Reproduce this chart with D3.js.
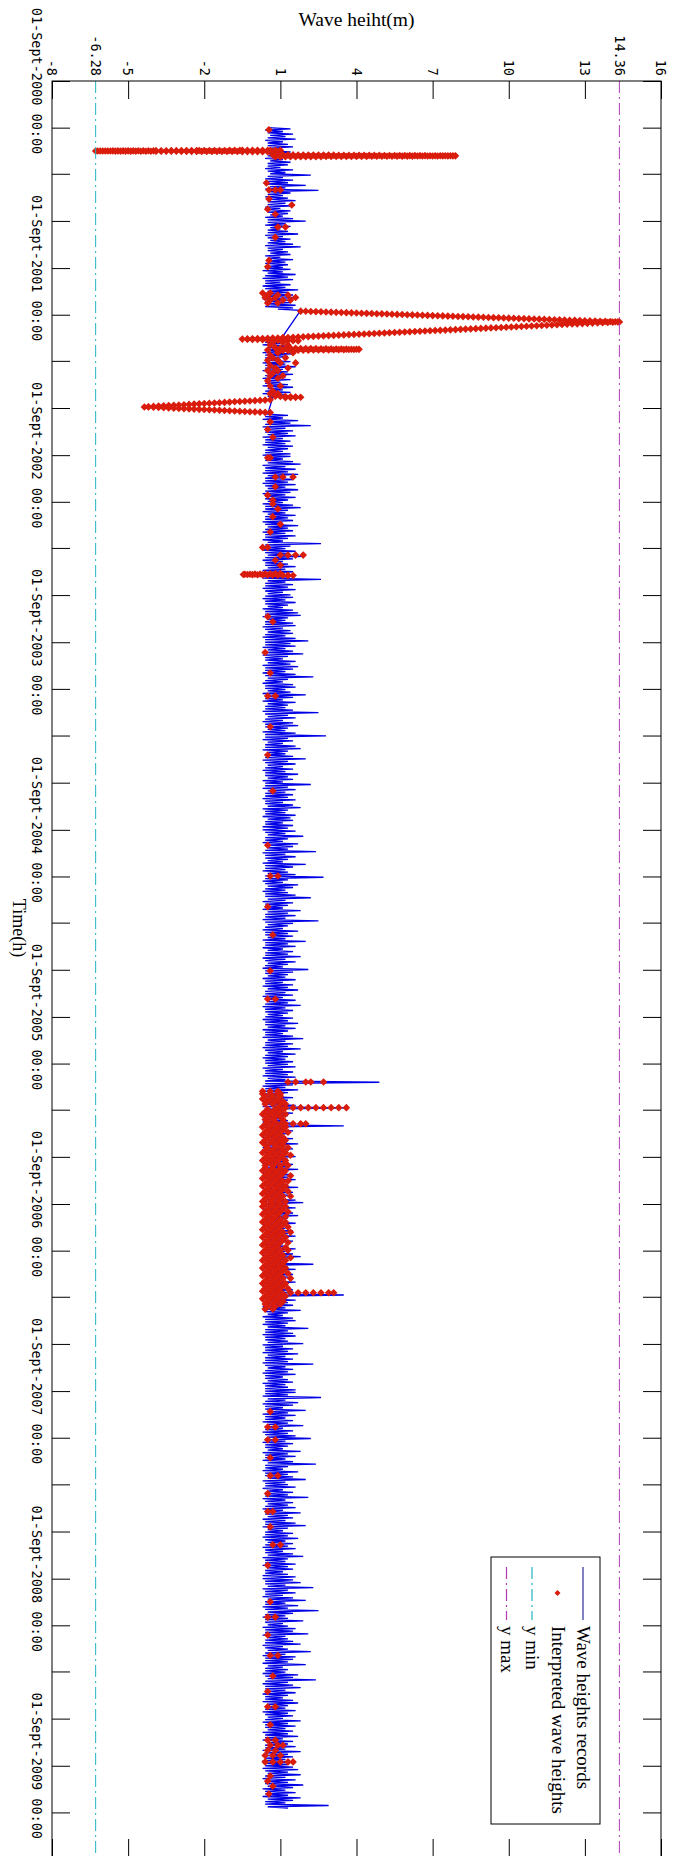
<!DOCTYPE html>
<html>
<head>
<meta charset="utf-8">
<script src="https://cdn.jsdelivr.net/npm/d3@7"></script>
<style>
  body { margin: 0; background: #fff; }
  .tick line { stroke: #000; }
</style>
</head>
<body>
<div id="chart"></div>
<script>
// wave height axis
var heightTicks = [-8, -6.28, -5, -2, 1, 4, 7, 10, 13, 14.36, 16]
var yMin = -6.28, yMax = 14.36

// wave height records: every 5 days a low value, 2.5 days later a high value (null = no record)
var recStarts = ["2000-12-01", "2001-09-01", "2002-09-01", "2003-09-01", "2004-09-01",
                 "2005-09-01", "2006-09-01", "2007-09-01", "2008-09-01", "2009-09-01"]
var recLo2000 = [0.5,0.4,0.5,0.6,0.5,0.4,0.5,0.5,0.6,0.4, 0.5,0.5,0.4,0.6,0.5,0.5,0.4,0.5,0.6,0.5,
                 0.4,0.5,0.5,0.6,0.4,0.5,0.5,0.4,0.6,0.5, 0.5,0.4,0.5,0.5,0.6,0.4,0.5,0.5,0.4,0.6,
                 0.5,0.5,0.4,0.5,0.6,0.5,0.4,0.5,0.5,0.6, 0.4,0.5,0.5,0.4,0.6]
var recHi2000 = [1.4,1.1,1.5,1.2,1.6,1.1,1.3,1.5,1.0,1.4, 1.2,1.6,1.1,1.4,1.3,1.0,1.5,1.2,2.2,1.1,
                 1.5,1.3,2.0,1.2,2.5,1.4,1.1,1.3,1.6,1.2, 1.5,1.0,1.4,1.3,1.1,1.5,2.0,1.2,1.4,1.0,
                 1.3,1.7,1.1,1.4,1.2,1.5,1.8,1.1,1.3,1.4, 1.0,1.5,1.2,1.3,1.1]
var recLo2001 = [0.4,0.3,0.5,0.4,0.3,0.4,0.4,0.3,0.4,0.5, 0.3,0.4,0.3,0.4,0.5,0.4,0.9,
                 null,null,null,null,null,null,null,null,null,null,null,
                 1.0,0.4,0.3,0.5,0.4,0.3,0.4,0.4,0.5,0.3, 0.4,0.4,0.3,0.5,0.4,0.3,0.4,0.4,0.3,0.5,
                 0.4,0.3,0.5, null,null,null,null,null,null,
                 0.5,0.4,0.3,0.5,0.4,0.3,0.4,0.4,0.5,0.3, 0.4,0.4,0.3,0.5,0.4,0.4]
var recHi2001 = [1.4,1.1,1.6,1.3,1.5,1.0,1.4,1.2,1.7,1.3, 1.5,1.7,1.3,1.4,1.6,1.5,1.8,
                 null,null,null,null,null,null,null,null,null,null,null,
                 1.3,1.0,1.4,1.2,1.1,1.5,1.3,1.0,1.4,1.2, 1.6,1.1,1.3,1.5,1.2,1.4,1.0,1.3,1.5,1.1,
                 1.4,1.2,0.7, null,null,null,null,null,null,
                 1.3,1.1,1.7,1.4,2.2,1.2,1.5,1.3,1.6,1.1, 1.4,1.2,1.5,1.3,1.1,1.4]
var recLo2002 = [0.3,0.4,0.4,0.5,0.3,0.4,0.4,0.3,0.5,0.4, 0.4,0.3,0.4,0.5,0.4,0.3,0.4,0.4,0.5,0.3,
                 0.4,0.4,0.3,0.5,0.4,0.4,0.3,0.4,0.5,0.4, 0.3,0.4,0.4,0.3,0.5,0.4,0.4,0.3,0.4,0.5,
                 0.4,0.3,0.4,0.4,0.5,0.3,0.4,0.4,0.3,0.5, 0.4,0.4,0.3,0.4,0.5,0.4,0.3,0.4,0.4,0.5,
                 0.3,0.4,0.4,0.3,0.5,0.4,0.4,0.3,0.4,0.5, 0.4,0.3,0.4]
var recHi2002 = [1.4,1.1,1.5,1.8,1.2,1.6,1.3,1.7,1.1,1.5, 1.3,1.6,1.2,1.7,1.4,1.2,1.6,1.3,1.1,1.5,
                 1.8,1.3,1.2,1.6,1.3,1.5,1.1,1.7,1.3,1.5, 1.2,1.6,1.3,1.1,2.6,1.4,1.2,1.6,1.3,1.9,
                 1.5,1.1,1.3,1.6,1.2,1.5,1.1,1.3,2.6,1.2, 1.5,1.3,1.6,1.1,1.4,1.5,1.2,1.6,1.3,1.1,
                 1.5,1.7,1.8,1.3,1.2,1.5,1.6,1.1,1.4,1.5, 1.2,1.6,2.1]
var recLo2003 = [0.4,0.4,0.3,0.5,0.4,0.3,0.4,0.4,0.5,0.3, 0.4,0.4,0.3,0.4,0.5,0.4,0.3,0.4,0.4,0.5,
                 0.3,0.4,0.4,0.3,0.5,0.4,0.4,0.3,0.4,0.5, 0.4,0.3,0.4,0.4,0.5,0.3,0.4,0.4,0.3,0.5,
                 0.4,0.4,0.3,0.5,0.4,0.4,0.3,0.4,0.5,0.4, 0.3,0.4,0.4,0.5,0.3,0.4,0.4,0.3,0.5,0.4,
                 0.4,0.3,0.4,0.4,0.5,0.3,0.4,0.4,0.3,0.5, 0.4,0.4,0.3]
var recHi2003 = [1.4,1.6,1.2,1.5,1.9,1.3,1.1,1.6,1.4,1.7, 1.5,1.2,1.6,2.3,1.3,1.1,1.5,1.6,1.2,1.4,
                 2.0,1.5,1.1,1.6,1.3,1.2,1.5,2.5,1.3,1.6, 1.1,1.5,1.7,1.3,1.2,1.6,2.8,1.3,1.5,1.1,
                 1.6,1.8,1.3,1.2,1.5,2.0,1.3,1.6,1.1,1.5, 1.2,1.7,1.3,1.5,1.1,2.2,1.3,1.6,1.2,1.5,
                 1.3,1.6,1.1,1.5,1.8,1.3,1.2,1.6,1.4,1.5, 1.1,1.5,1.3]
var recLo2004 = [0.3,0.4,0.5,0.4,0.4,0.3,0.4,0.5,0.4,0.3, 0.4,0.4,0.5,0.3,0.4,0.4,0.3,0.5,0.4,0.4,
                 0.3,0.4,0.5,0.4,0.3,0.4,0.4,0.5,0.3,0.4, 0.4,0.3,0.5,0.4,0.4,0.3,0.4,0.5,0.4,0.3,
                 0.4,0.4,0.5,0.3,0.4,0.4,0.3,0.5,0.4,0.4, 0.3,0.4,0.5,0.4,0.3,0.4,0.4,0.5,0.3,0.4,
                 0.4,0.3,0.5,0.4,0.4,0.3,0.4,0.5,0.4,0.3, 0.4,0.4,0.5]
var recHi2004 = [1.6,1.2,1.9,1.3,1.1,1.7,1.5,1.3,2.4,1.2, 1.6,1.3,1.1,2.0,1.5,1.2,1.3,1.6,2.7,1.3,
                 1.1,1.7,1.5,1.2,1.3,1.6,2.2,1.2,1.5,1.3, 1.1,1.8,1.3,1.6,1.2,2.5,1.5,1.3,1.1,1.7,
                 1.3,1.5,1.2,2.0,1.3,1.6,1.1,1.5,1.3,1.8, 1.2,1.6,1.3,1.1,2.1,1.5,1.3,1.2,1.6,1.1,
                 1.5,1.3,1.7,1.2,1.5,1.1,1.6,1.3,1.8,1.2, 1.5,1.3,1.1]
var recLo2005 = [0.4,0.3,0.4,0.4,0.5,0.3,0.4,0.4,0.3,0.5, 0.4,0.4,0.3,0.4,0.5,0.4,0.3,0.4,0.4,0.5,
                 0.3,0.4,0.4,0.3,0.5,0.4,0.4,0.3,0.4,0.3, 0.4,0.3,0.4,0.3,0.4,0.3,0.4,0.3,0.4,0.3,
                 0.4,0.3,0.4,0.3,0.4,0.3,0.4,0.3,0.4,0.3, 0.4,0.3,0.4,0.3,0.4,0.3,0.4,0.3,0.4,0.3,
                 0.4,0.3,0.4,0.3,0.4,0.3,0.4,0.3,0.4,0.3, 0.4,0.3,0.4]
var recHi2005 = [1.5,1.3,1.7,1.2,1.6,1.3,1.1,1.5,1.9,1.2, 1.5,1.3,1.8,1.1,1.6,1.3,1.2,1.5,1.3,1.6,
                 1.1,1.5,1.3,1.6,1.2,4.9,1.5,1.2,1.7,1.3, 1.1,1.5,1.3,1.2,1.6,3.7,1.2,1.5,1.3,1.1,
                 1.3,1.6,3.5,1.2,1.5,1.3,1.1,1.5,1.3,1.7, 1.2,1.5,1.3,1.1,1.6,1.3,1.2,1.5,1.3,1.7,
                 1.1,1.5,1.3,1.6,1.2,1.3,1.7,1.2,1.5,1.3, 1.1,1.6,1.9]
var recLo2006 = [0.3,0.4,0.3,0.4,0.3,0.4,0.3,0.4,0.3,0.4, 0.3,0.4,0.3,0.4,0.3,0.4,0.3,0.4,0.3,0.4,
                 0.3,0.4,0.3,0.4,0.3,0.4,0.3,0.4,0.3,0.4, 0.3,0.4,0.3,0.4,0.3,0.4,0.3,0.4,0.3,0.4,
                 0.3,0.4,0.4,0.5,0.3,0.4,0.4,0.3,0.5,0.4, 0.4,0.3,0.4,0.4,0.5,0.3,0.4,0.4,0.3,0.5,
                 0.4,0.4,0.3,0.4,0.5,0.4,0.3,0.4,0.4,0.5, 0.3,0.4,0.4]
var recHi2006 = [1.3,1.6,1.2,1.5,1.7,1.3,1.1,1.6,1.3,1.2, 1.5,1.3,1.6,1.2,1.5,1.1,1.3,1.6,1.2,1.5,
                 1.8,1.3,1.2,2.3,1.3,1.6,1.1,1.5,1.3,1.2, 1.6,1.3,1.1,1.5,1.3,3.5,1.2,1.6,1.3,1.5,
                 1.2,1.8,1.3,1.1,1.5,1.6,1.3,1.2,2.1,1.3, 1.5,1.6,1.2,1.3,1.9,1.1,1.5,1.3,1.7,1.2,
                 1.5,1.3,2.3,1.2,1.5,1.3,1.6,1.1,1.3,1.5, 1.2,1.3,1.6]
var recLo2007 = [0.4,0.4,0.3,0.5,0.4,0.3,0.4,0.4,0.5,0.3, 0.4,0.4,0.3,0.5,0.4,0.4,0.3,0.4,0.5,0.4,
                 0.3,0.4,0.4,0.5,0.3,0.4,0.4,0.3,0.5,0.4, 0.4,0.3,0.4,0.4,0.5,0.3,0.4,0.4,0.3,0.5,
                 0.4,0.4,0.3,0.4,0.5,0.4,0.3,0.4,0.4,0.5, 0.3,0.4,0.4,0.3,0.5,0.4,0.4,0.3,0.4,0.5,
                 0.4,0.3,0.4,0.4,0.5,0.3,0.4,0.4,0.3,0.5, 0.4,0.4,0.3]
var recHi2007 = [1.6,1.3,2.6,1.2,1.7,1.5,1.1,2.0,1.3,1.6, 1.2,1.5,1.3,1.9,1.1,1.5,1.3,1.6,2.2,1.2,
                 1.5,1.3,1.1,1.8,1.3,1.6,1.2,1.5,2.4,1.3, 1.1,1.7,1.3,1.5,2.0,1.2,1.3,1.6,1.1,1.5,
                 1.3,2.1,1.2,1.5,1.3,1.6,1.1,1.8,1.3,1.5, 1.2,1.6,2.0,1.3,1.1,1.5,1.3,1.7,1.2,1.5,
                 1.3,1.6,1.1,1.5,1.9,1.3,1.2,1.6,1.3,1.5, 1.1,1.3,1.6]
var recLo2008 = [0.3,0.4,0.4,0.5,0.3,0.4,0.4,0.3,0.5,0.4, 0.4,0.3,0.4,0.5,0.4,0.3,0.4,0.4,0.5,0.3,
                 0.4,0.4,0.3,0.5,0.4,0.4,0.3,0.4,0.5,0.4, 0.3,0.4,0.4,0.3,0.5,0.4,0.4,0.3,0.4,0.5,
                 0.4,0.3,0.4,0.4,0.5,0.3,0.4,0.4,0.3,0.5, 0.4,0.4,0.3,0.4,0.5,0.4,0.3,0.4,0.4,0.5,
                 0.3,0.4,0.4,0.3,0.5,0.4,0.4,0.3,0.4,0.5, 0.4,0.3,0.4]
var recHi2008 = [1.5,1.8,1.2,2.3,1.3,1.6,1.1,1.5,2.0,1.2, 1.7,1.3,2.5,1.5,1.2,1.3,1.9,1.1,1.3,1.6,
                 1.5,2.1,1.2,1.3,1.5,1.8,1.1,1.3,2.2,1.2, 1.6,1.5,1.3,2.0,1.1,1.3,1.2,1.7,1.5,2.4,
                 1.3,1.5,1.8,1.2,1.6,1.3,1.1,1.5,1.7,1.3, 1.2,1.6,1.3,1.5,1.1,1.8,1.3,1.6,1.2,1.5,
                 1.3,1.7,1.1,1.5,1.3,1.6,1.2,1.8,1.3,1.5, 1.2,1.6,1.3]
var recLo2009 = [0.4,0.3,0.4,0.5,0.4,0.3,0.4,0.4,0.5,0.3, 0.4,0.4,0.3,0.5,0.4,0.4,0.5]
var recHi2009 = [1.5,1.7,1.3,1.8,1.2,1.6,1.3,1.9,1.5,1.2, 1.6,1.3,1.8,1.5,1.2,2.9,1.3]
var recLo = [recLo2000, recLo2001, recLo2002, recLo2003, recLo2004, recLo2005, recLo2006, recLo2007, recLo2008, recLo2009]
var recHi = [recHi2000, recHi2001, recHi2002, recHi2003, recHi2004, recHi2005, recHi2006, recHi2007, recHi2008, recHi2009]

// interpreted wave heights: [slot (5 days from 1 Sept), values...]
var interpStarts = ["2000-09-01", "2001-09-01", "2002-09-01", "2003-09-01", "2004-09-01",
                    "2005-09-01", "2006-09-01", "2007-09-01", "2008-09-01", "2009-09-01"]
var interp2000 = [[19,0.55],[39.8,0.45],[42.5,0.55,0.8,1.0],[46,0.55],[48.4,1.45],[50,0.5],[52,0.8],
                  [57,0.9,1.2],[61,0.8],[70,0.55],[72.5,0.5]]
var interp2001 = [[9.7,0.3,0.6],[10.5,0.5,0.9,1.3],[11.5,0.4,0.8,1.6],[12.5,0.6,1.1,1.4],[13.6,0.5,0.9],
                  [29,0.7,1.1],[30,0.6,1.3],[31,0.8],[32,0.5,1.0],[33,0.9,1.5],[34,0.6],[35,0.7,1.2],
                  [36,0.5,0.9],[37,1.0,1.6],[38,0.6],[39,0.8,1.3],[40,0.5,0.9],[41,0.7],[42,0.6,1.1],
                  [43,0.9],[44,0.5],[46,0.6,1.0],[48,0.7],[49,0.6,0.9],[60,0.6],[63,0.5],[66,0.7]]
var interp2002 = [[1,0.5,0.6],[8.5,0.8,1.1,1.5],[12.3,0.8],[15.6,0.5],[17.5,0.7],[19,0.7],[21,0.9],
                  [24,0.7],[27,1.0],[30,0.6],[36,0.3,0.5],[39,1.0,1.3,1.6,1.9],[41,0.8],[43,1.0],
                  [63,0.5],[65,0.7]]
var interp2003 = [[4,0.4],[12,0.6],[21,0.5,0.8],[33,0.6],[44,0.5],[58,0.7]]
var interp2004 = [[6,0.5],[18,0.6,0.9],[30,0.5],[41,0.7],[55,0.6],[66,0.5,0.8]]
var interp2005 = [[25.4,1.3,1.6,2.0,2.2,2.7],[29,0.3,0.6,0.9],[30,0.3,0.6,0.9,1.0],[31,0.4,0.7,1.0],
                  [32,0.3,0.6,0.9],[33,0.5,0.8,1.1],[34,0.4,0.7,1.0,1.2],[35.4,0.9,1.2,1.5,1.8,2.1,2.4,2.7,3.0,3.3,3.6],
                  [36,0.5,0.8,1.1],[37,0.4,0.7,1.0],[38,0.3,0.6,0.9,1.2],[39,0.5,0.8,1.0],[40,0.4,0.7,1.1],
                  [41,0.5,0.8],[41.7,1.2,1.5,1.8,2.0],[42,0.4,0.7,1.0],[43,0.3,0.6,0.9,1.2],[44,0.5,0.8,1.1],
                  [45,0.4,0.7,1.0,1.3],[46,0.3,0.6,0.9],[47,0.5,0.8,1.1],[48,0.4,0.7,1.0,1.2],
                  [49,0.3,0.6,0.9,1.1],[50,0.4,0.8,1.1],[51,0.5,0.8,1.0,1.3],[52,0.4,0.7,1.1],
                  [53,0.3,0.6,0.9,1.2],[54,0.5,0.8,1.1,1.4],[55,0.4,0.7,1.0],[56,0.3,0.6,0.9,1.2],
                  [57,0.5,0.8,1.2],[58,0.4,0.7,1.0,1.3],[59,0.4,0.7,1.0],[60,0.3,0.6,0.9,1.2],
                  [61,0.5,0.8,1.1],[62,0.4,0.7,1.0,1.4],[63,0.3,0.6,0.9],[64,0.5,0.8,1.1,1.3],
                  [65,0.4,0.7,1.0],[66,0.3,0.6,0.9,1.2],[67,0.5,0.8,1.1],[68,0.4,0.7,1.0,1.3],
                  [69,0.3,0.6,0.9],[70,0.5,0.8,1.1,1.4],[71,0.4,0.7,1.0],[72,0.3,0.6,0.9,1.2]]
var interp2006 = [[0,0.4,0.7,1.0],[1,0.3,0.6,0.9,1.2],[2,0.5,0.8,1.1],[3,0.4,0.7,1.0,1.3],[4,0.3,0.6,0.9],
                  [5,0.5,0.8,1.2],[6,0.4,0.7,1.0],[7,0.3,0.6,0.9,1.2],[8,0.5,0.8,1.1],[9,0.4,0.7,1.0,1.3],
                  [10,0.3,0.6,0.9],[11,0.5,0.8,1.1,1.4],[12,0.4,0.7,1.0],[13,0.3,0.6,0.9,1.2],
                  [14,0.5,0.8,1.1],[15,0.4,0.7,1.0,1.3],[16,0.3,0.6,0.9],[17,0.5,0.8,1.2],
                  [18,0.4,0.7,1.0,1.3],[19,0.3,0.6,0.9],[20,0.5,0.8,1.1],[21,0.4,0.7,1.0,1.4],
                  [22,0.3,0.6,0.9,1.2],[23,0.5,0.8,1.1],[24,0.4,0.7,1.0],[25,0.3,0.6,0.9,1.2],
                  [26,0.5,0.8,1.1],[27,0.4,0.7,1.0,1.3],[28,0.3,0.6,0.9],[29,0.5,0.8,1.1,1.4],
                  [30,0.4,0.7,1.0],[31,0.3,0.6,0.9,1.2],[32,0.5,0.8,1.1],[33,0.4,0.7,1.0,1.3],
                  [34,0.3,0.6,0.9],[34.6,1.4,1.7,2.0,2.3,2.6,2.9,3.1],[35,0.5,0.8,1.1],[36,0.4,0.7,1.0,1.2],
                  [37,0.3,0.6,0.9],[38,0.5,0.8,1.1],[39,0.4,0.7,1.0],[40,0.5,0.8],[41,0.4,0.7]]
var interp2007 = [[8,0.6],[14,0.5,0.8],[19,0.5,0.8],[26,0.6],[33,0.6,0.9],[40,0.5],[47,0.5,0.7],
                  [53,0.6],[60,0.7,1.0],[68,0.5]]
var interp2008 = [[9,0.6],[15,0.5,0.8],[22,0.5],[30,0.6,0.9],[38,0.7],[44,0.5],[50,0.5,0.8],[57,0.6],
                  [63,0.5,0.8],[65,0.6,0.9,1.1],[67,0.5,0.8],[69,0.4,0.7,1.0],[71.5,0.4,0.7,1.0,1.3,1.5]]
var interp2009 = [[4,0.6],[6,0.5],[8,0.7],[11,0.55]]
var interpYears = [interp2000, interp2001, interp2002, interp2003, interp2004,
                   interp2005, interp2006, interp2007, interp2008, interp2009]

// runs of interpreted values inside the record gaps: [first date, last date]
var runDates = [["2001-01-14", "2001-01-17"], ["2001-01-23", "2001-01-27"],
                ["2001-11-24", "2001-12-15"], ["2001-12-15", "2002-01-15"],
                ["2002-01-15", "2002-01-21"], ["2002-02-04", "2002-02-09"],
                ["2002-05-09", "2002-05-12"], ["2002-05-16", "2002-05-30"],
                ["2002-05-30", "2002-06-10"], ["2003-04-20", "2003-04-24"]]
var runA = [1.0,0.8,0.6,0.5,0.3,0.1,-0.1,-0.3,-0.5,-0.6,-0.8,-1.0,-1.2,-1.4,-1.6,-1.8,-2.0,-2.2,-2.3,
            -2.5,-2.7,-2.9,-3.1,-3.3,-3.5,-3.7,-3.9,-4.0,-4.2,-4.4,-4.6,-4.8,-5.0,-5.2,-5.4,-5.6,-5.8,
            -6.0,-6.2,-6.28,-6.1,-5.9,-5.7,-5.5,-5.3,-5.1,-4.9,-4.7,-4.5,-4.3,-4.1,-3.9,-3.7,-3.5,-3.3,
            -3.1,-2.9,-2.7,-2.5,-2.3,-2.1,-1.9,-1.7,-1.5,-1.3,-1.1,-0.9,-0.7,-0.5,-0.3,-0.1,0.1,0.3,
            0.5,0.7,0.9]
var runB = [0.7,0.9,1.1,1.3,1.5,1.7,1.9,2.1,2.3,2.5,2.7,2.9,3.1,3.3,3.5,3.7,3.9,4.1,4.3,4.5,4.7,4.9,
            5.1,5.3,5.5,5.7,5.9,6.1,6.3,6.5,6.7,6.9,7.1,7.3,7.5,7.7,7.9,7.8,7.6,7.4,7.2,7.0,6.8,6.6,
            6.4,6.2,6.0,5.8,5.6,5.4,5.2,5.0,4.8,4.6,4.4,4.2,4.0,3.8,3.6,3.4,3.2,3.0,2.8,2.6,2.4,2.2,
            2.0,1.8,1.6,1.4,1.2,1.0,0.8]
var runC = [1.8,2.0,2.2,2.4,2.6,2.8,3.0,3.2,3.4,3.6,3.8,4.0,4.2,4.4,4.6,4.8,5.0,5.2,5.4,5.6,5.8,6.0,
            6.2,6.4,6.6,6.8,7.0,7.2,7.4,7.6,7.8,8.0,8.2,8.4,8.6,8.8,9.0,9.2,9.4,9.6,9.8,10.0,10.2,
            10.4,10.6,10.8,11.0,11.2,11.4,11.6,11.8,12.0,12.2,12.4,12.6,12.8,13.0,13.2,13.4,13.6,
            13.8,14.0,14.2,14.36]
var runD = [14.3,14.1,13.9,13.7,13.5,13.3,13.1,12.9,12.7,12.5,12.3,12.1,11.9,11.7,11.5,11.3,11.1,10.9,
            10.7,10.5,10.3,10.1,9.9,9.7,9.5,9.3,9.1,8.9,8.7,8.5,8.3,8.1,7.9,7.7,7.5,7.3,7.1,6.9,6.7,
            6.5,6.3,6.1,5.9,5.7,5.5,5.3,5.1,4.9,4.7,4.5,4.3,4.1,3.9,3.7,3.5,3.3,3.1,2.9,2.7,2.5,2.3,
            2.1,1.9,1.7,1.5,1.3,1.1]
var runE = [1.1,0.9,0.7,0.5,0.3,0.1,-0.1,-0.3,-0.5,-0.3,-0.1,0.1,0.3,0.5,0.7,0.9,1.1,1.3,1.5,1.7]
var runF = [0.8,1.0,1.2,1.4,1.6,1.8,2.0,2.2,2.4,2.6,2.8,3.0,3.2,3.4,3.6,3.8,4.0,4.1,3.9,3.7,3.5,3.3,
            3.1,2.9,2.7,2.5,2.3,2.1,1.9,1.7,1.5,1.3,1.1,0.9]
var runG = [0.8,1.0,1.2,1.4,1.6,1.8,1.6,1.4,1.2]
var runH = [0.6,0.4,0.2,0.0,-0.2,-0.4,-0.6,-0.8,-1.0,-1.2,-1.4,-1.6,-1.8,-2.0,-2.2,-2.4,-2.6,-2.8,
            -3.0,-3.2,-3.4,-3.6,-3.8,-4.0,-4.2,-4.36]
var runI = [-4.2,-4.0,-3.8,-3.6,-3.4,-3.2,-3.0,-2.8,-2.6,-2.4,-2.2,-2.0,-1.8,-1.6,-1.4,-1.2,-1.0,-0.8,
            -0.6,-0.4,-0.2,0.0,0.2,0.4,0.6]
var runJ = [1.0,0.8,0.6,0.4,0.2,0.0,-0.2,-0.4,-0.46,-0.3,-0.1,0.1,0.3,0.5,0.7,0.9,1.1,1.3,1.5,1.3]
var runValues = [runA, runB, runC, runD, runE, runF, runG, runH, runI, runJ]

// time axis
var timeStart = "2000-09-01", timeEnd = "2010-02-26"

var width = 675, height = 1856
var padL = 52, padR = 661, padT = 81, padB = 1857
var DAY = 864e5
var parse = d3.utcParse("%Y-%m-%d")

var svg = d3.select("#chart").append("svg")
    .attr("width", width)
    .attr("height", height)
    .style("font-family", "'DejaVu Sans Mono', monospace")

var x = d3.scaleLinear().domain([-8, 16]).range([padL, padR])
var y = d3.scaleUtc().domain([parse(timeStart), parse(timeEnd)]).range([padT, padB])

// records: low then high inside each 5-day slot
var records = []
recLo.forEach(function(lo, k) {
  var t0 = parse(recStarts[k]).getTime(), hi = recHi[k]
  lo.forEach(function(v, i) {
    if (v != null) records.push({t: new Date(t0 + i * 5 * DAY), v: v})
    if (hi[i] != null) records.push({t: new Date(t0 + (i * 5 + 2.5) * DAY), v: hi[i]})
  })
})

// interpreted points
var interp = []
interpYears.forEach(function(arr, k) {
  var t0 = parse(interpStarts[k]).getTime()
  arr.forEach(function(row) {
    for (var j = 1; j < row.length; j++) interp.push({t: new Date(t0 + row[0] * 5 * DAY), v: row[j]})
  })
})
runValues.forEach(function(arr, k) {
  var a = parse(runDates[k][0]).getTime(), b = parse(runDates[k][1]).getTime()
  arr.forEach(function(v, i) {
    interp.push({t: new Date(a + (b - a) * i / (arr.length - 1)), v: v})
  })
})

svg.append("defs").append("clipPath").attr("id", "plotclip")
  .append("rect").attr("x", padL).attr("y", padT).attr("width", padR - padL).attr("height", padB - padT)

var plot = svg.append("g").attr("clip-path", "url(#plotclip)")

var blue = "#0000e6", red = "#d91c0c", cyan = "#22b4c4", magenta = "#b03ab4"

plot.append("path")
  .datum(records)
  .attr("fill", "none")
  .attr("stroke", blue)
  .attr("stroke-width", 1.3)
  .attr("d", d3.line().x(function(d) { return x(d.v) }).y(function(d) { return y(d.t) }))

var diamond = "M0,-3.8L3.8,0L0,3.8L-3.8,0Z"
plot.append("g").selectAll("path")
  .data(interp)
  .enter().append("path")
  .attr("d", diamond)
  .attr("fill", red)
  .attr("transform", function(d) { return "translate(" + x(d.v) + "," + y(d.t) + ")" })

// y min / y max lines
plot.append("line")
  .attr("x1", x(yMin)).attr("x2", x(yMin)).attr("y1", padT).attr("y2", padB)
  .attr("stroke", cyan).attr("stroke-dasharray", "12,4,2,4")
plot.append("line")
  .attr("x1", x(yMax)).attr("x2", x(yMax)).attr("y1", padT).attr("y2", padB)
  .attr("stroke", magenta).attr("stroke-dasharray", "12,4,2,4")

// axes, ticks pointing inward
var timeTicks = d3.utcMonth.range(y.domain()[0], y.domain()[1], 3)
var plainTicks = heightTicks.filter(function(v) { return v !== yMin && v !== yMax })

svg.append("g").attr("transform", "translate(" + padL + ",0)")
  .call(d3.axisRight(y).tickValues(timeTicks).tickSize(18).tickSizeOuter(0).tickFormat(""))
svg.append("g").attr("transform", "translate(" + padR + ",0)")
  .call(d3.axisLeft(y).tickValues(timeTicks).tickSize(18).tickSizeOuter(0).tickFormat(""))
svg.append("g").attr("transform", "translate(0," + padT + ")")
  .call(d3.axisBottom(x).tickValues(plainTicks).tickSize(18).tickSizeOuter(0).tickFormat(""))
svg.append("g").attr("transform", "translate(0," + padB + ")")
  .call(d3.axisTop(x).tickValues(plainTicks).tickSize(18).tickSizeOuter(0).tickFormat(""))
svg.selectAll(".domain").remove()

svg.append("rect")
  .attr("x", padL).attr("y", padT).attr("width", padR - padL).attr("height", padB - padT)
  .attr("fill", "none").attr("stroke", "#000")

// tick labels, rotated like the figure
svg.append("g").selectAll("text")
  .data(heightTicks)
  .enter().append("text")
  .attr("transform", function(d) { return "translate(" + x(d) + "," + (padT - 5) + ") rotate(90)" })
  .attr("text-anchor", "end")
  .attr("dy", "0.35em")
  .style("font-size", "13.5px")
  .text(function(d) { return d })

var fmt = d3.utcFormat("%d-Sept-%Y %H:%M")
svg.append("g").selectAll("text")
  .data(timeTicks.filter(function(d) { return d.getUTCMonth() === 8 }))
  .enter().append("text")
  .attr("transform", function(d) { return "translate(37," + y(d) + ") rotate(90)" })
  .attr("text-anchor", "middle")
  .attr("dy", "0.35em")
  .style("font-size", "13.5px")
  .text(fmt)

svg.append("text")
  .attr("x", (padL + padR) / 2).attr("y", 26)
  .attr("text-anchor", "middle")
  .style("font-family", "'Liberation Serif', serif")
  .style("font-size", "19.5px")
  .text("Wave heiht(m)")

svg.append("text")
  .attr("transform", "translate(19,928) rotate(90)")
  .attr("text-anchor", "middle")
  .attr("dy", "0.35em")
  .style("font-family", "'Liberation Serif', serif")
  .style("font-size", "18px")
  .text("Time(h)")

// legend
var lg = svg.append("g")
lg.append("rect").attr("x", 491).attr("y", 1557).attr("width", 109).attr("height", 267)
  .attr("fill", "#fff").attr("stroke", "#000")
var items = [
  {name: "Wave heights records", kind: "line", color: "#2a2a9a", dash: null},
  {name: "Interpreted wave heights", kind: "mark", color: red},
  {name: "y min", kind: "line", color: cyan, dash: "12,4,2,4"},
  {name: "y max", kind: "line", color: magenta, dash: "12,4,2,4"}
]
items.forEach(function(it, i) {
  var cx = 583 - i * 25.5
  if (it.kind === "line") {
    lg.append("line").attr("x1", cx).attr("x2", cx).attr("y1", 1567).attr("y2", 1620)
      .attr("stroke", it.color).attr("stroke-width", 1.2).attr("stroke-dasharray", it.dash)
  } else {
    lg.append("path").attr("d", "M0,-3L3,0L0,3L-3,0Z").attr("fill", it.color)
      .attr("transform", "translate(" + cx + ",1593)")
  }
  lg.append("text")
    .attr("transform", "translate(" + (cx + 1) + ",1626) rotate(90)")
    .attr("dy", "0.35em")
    .style("font-family", "'Liberation Serif', serif")
    .style("font-size", "19px")
    .text(it.name)
})
</script>
</body>
</html>
